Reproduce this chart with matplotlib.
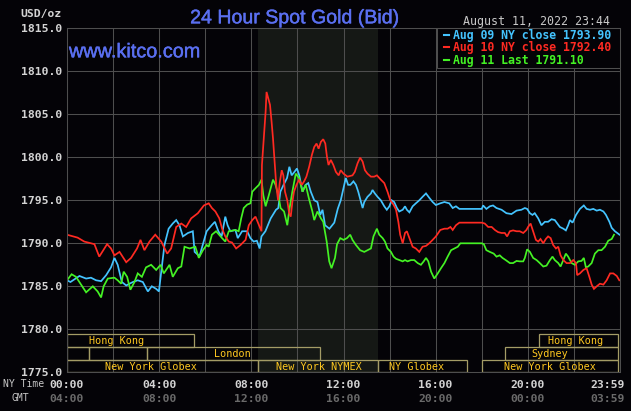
import matplotlib
matplotlib.use("Agg")
import matplotlib.pyplot as plt
import matplotlib.patheffects as pe
from matplotlib.patches import Rectangle
from matplotlib.lines import Line2D
from matplotlib.transforms import blended_transform_factory

# ---------------- data ----------------
hours_aug09 = [0, 0.15, 0.54, 0.83, 1.04, 1.26, 1.48, 1.7, 1.91, 2.06, 2.2, 2.38, 2.57, 2.71, 2.86, 3.07,
               3.29, 3.51, 3.68, 3.87, 3.99, 4.09, 4.23, 4.41, 4.59, 4.74, 4.88, 5.03, 5.25, 5.46, 5.54,
               5.75, 5.9, 6.06, 6.28, 6.42, 6.57, 6.71, 6.87, 6.97, 7.09, 7.31, 7.41, 7.6, 7.82, 7.96,
               8.1, 8.24, 8.36, 8.44, 8.61, 8.84, 9.07, 9.17, 9.26, 9.4, 9.55, 9.65, 9.75, 9.87, 9.98,
               10.08, 10.22, 10.36, 10.47, 10.58, 10.73, 10.87, 10.99, 11.09, 11.2, 11.39, 11.6, 11.75,
               11.88, 12.0, 12.1, 12.2, 12.3, 12.43, 12.54, 12.64, 12.72, 12.83, 12.9, 13.04, 13.19,
               13.26, 13.36, 13.48, 13.62, 13.77, 13.88, 13.99, 14.09, 14.2, 14.32, 14.42, 14.57, 14.67,
               14.75, 14.86, 15.0, 15.14, 15.29, 15.43, 15.58, 15.72, 15.87, 16.01, 16.2, 16.38, 16.59,
               16.74, 16.88, 17.03, 18.0, 18.06, 18.2, 18.35, 18.49, 18.64, 18.86, 19.07, 19.29, 19.51,
               19.72, 19.87, 19.97, 20.09, 20.2, 20.3, 20.45, 20.59, 20.74, 20.88, 21.03, 21.17, 21.28,
               21.39, 21.54, 21.65, 21.75, 21.83, 21.94, 22.09, 22.26, 22.43, 22.55, 22.7, 22.84, 22.99,
               23.13, 23.28, 23.39, 23.54, 23.64, 23.78, 23.88, 23.98]
price_aug09 = [1785.7, 1785.5, 1786.2, 1785.9, 1786.0, 1785.7, 1785.6, 1786.3, 1787.2, 1788.3, 1787.5,
               1785.5, 1785.1, 1785.3, 1785.5, 1785.7, 1785.5, 1784.4, 1785.0, 1784.7, 1784.4, 1786.7,
               1789.8, 1791.7, 1792.3, 1792.7, 1792.1, 1790.8, 1791.2, 1791.4, 1789.0, 1788.5, 1789.9,
               1791.4, 1792.1, 1792.5, 1791.4, 1790.8, 1793.1, 1792.1, 1791.4, 1791.55, 1790.6, 1791.4,
               1791.4, 1790.6, 1790.2, 1790.3, 1789.4, 1790.8, 1791.4, 1792.9, 1793.9, 1794.1, 1796.0,
               1796.8, 1797.6, 1798.9, 1797.9, 1798.3, 1798.7, 1797.9, 1796.0, 1796.8, 1797.0, 1796.0,
               1795.0, 1794.8, 1793.3, 1793.9, 1792.1, 1791.7, 1792.4, 1794.0, 1795.0, 1796.4, 1797.6,
               1796.8, 1796.8, 1797.2, 1796.8, 1796.0, 1795.2, 1794.1, 1794.8, 1795.4, 1795.8, 1796.2,
               1795.8, 1795.4, 1795.0, 1794.3, 1793.9, 1794.3, 1795.0, 1794.8, 1794.1, 1793.7, 1793.9,
               1794.3, 1793.9, 1793.6, 1794.3, 1794.65, 1795.0, 1795.4, 1795.8, 1795.3, 1794.8, 1794.45,
               1794.65, 1794.8, 1794.65, 1794.1, 1794.3, 1794.0, 1794.0, 1794.4, 1794.0, 1794.3, 1794.4,
               1794.1, 1793.9, 1793.5, 1793.4, 1793.8, 1793.9, 1794.1, 1794.0, 1793.5, 1793.3, 1793.5,
               1792.9, 1792.1, 1792.5, 1792.5, 1792.8, 1792.7, 1792.3, 1791.9, 1791.7, 1791.5, 1792.1,
               1792.7, 1792.4, 1793.3, 1794.0, 1794.4, 1794.0, 1793.9, 1794.0, 1793.8, 1793.9, 1793.7,
               1793.3, 1792.5, 1791.8, 1791.4, 1791.2, 1791.0]

hours_aug10 = [0, 0.46, 0.75, 1.19, 1.4, 1.74, 1.91, 2.06, 2.28, 2.57, 2.78, 3.04, 3.19, 3.36, 3.58,
               3.83, 4.09, 4.35, 4.52, 4.74, 4.96, 5.17, 5.39, 5.68, 5.94, 6.15, 6.29, 6.44, 6.61, 6.73,
               6.87, 7.02, 7.16, 7.34, 7.53, 7.75, 7.89, 8.04, 8.18, 8.33, 8.44, 8.46, 8.55, 8.62, 8.66,
               8.73, 8.81, 8.88, 8.94, 9.0, 9.08, 9.16, 9.23, 9.32, 9.39, 9.46, 9.56, 9.64, 9.71, 9.78,
               9.85, 9.96, 10.07, 10.19, 10.29, 10.39, 10.51, 10.63, 10.73, 10.83, 10.92, 11.02, 11.12,
               11.21, 11.28, 11.35, 11.45, 11.56, 11.67, 11.79, 11.88, 12.0, 12.17, 12.39, 12.49, 12.61,
               12.72, 12.83, 12.93, 13.04, 13.19, 13.33, 13.45, 13.62, 13.77, 13.91, 14.03, 14.17, 14.28,
               14.38, 14.46, 14.57, 14.67, 14.75, 14.86, 15.0, 15.14, 15.29, 15.43, 15.58, 15.72, 15.87,
               16.01, 16.2, 16.38, 16.52, 16.64, 16.74, 16.88, 17.03, 18.0, 18.13, 18.28, 18.43, 18.57,
               18.71, 18.86, 19.0, 19.1, 19.22, 19.36, 19.51, 19.65, 19.8, 19.94, 20.01, 20.12, 20.23,
               20.35, 20.45, 20.55, 20.67, 20.78, 20.88, 20.99, 21.1, 21.22, 21.32, 21.42, 21.54, 21.68,
               21.83, 21.97, 22.09, 22.14, 22.26, 22.41, 22.55, 22.67, 22.77, 22.87, 22.99, 23.13, 23.28,
               23.42, 23.57, 23.71, 23.86, 23.97]
price_aug10 = [1791.0, 1790.66, 1790.2, 1789.9, 1788.45, 1789.9, 1789.4, 1788.6, 1789.0, 1787.8, 1788.3,
               1789.4, 1790.4, 1789.2, 1790.2, 1791.0, 1790.2, 1788.8, 1789.4, 1791.9, 1792.3, 1791.9,
               1792.9, 1793.5, 1794.4, 1794.65, 1794.1, 1793.7, 1792.9, 1791.7, 1790.8, 1790.2, 1790.1,
               1789.4, 1789.8, 1790.4, 1792.1, 1792.7, 1793.1, 1792.1, 1791.4, 1799.1, 1802.6, 1805.3,
               1807.6, 1806.9, 1806.1, 1804.1, 1802.2, 1799.9, 1796.8, 1795.0, 1797.0, 1798.5, 1797.9,
               1796.0, 1795.0, 1793.5, 1793.1, 1794.8, 1796.0, 1796.8, 1797.4, 1796.8, 1797.2, 1797.75,
               1798.9, 1800.3, 1801.2, 1801.6, 1801.0, 1801.8, 1802.1, 1801.6, 1800.1, 1799.1, 1799.7,
               1799.1, 1798.3, 1797.9, 1798.5, 1798.1, 1797.75, 1797.9, 1798.3, 1799.3, 1799.96, 1799.5,
               1798.5, 1798.1, 1797.75, 1797.75, 1797.9, 1797.4, 1797.0, 1796.0, 1795.0, 1794.5, 1793.9,
               1792.5, 1791.0, 1790.0, 1791.2, 1791.4, 1790.6, 1789.6, 1789.4, 1789.0, 1789.6, 1789.7,
               1790.0, 1790.4, 1790.8, 1791.55, 1791.7, 1791.7, 1791.9, 1791.55, 1792.1, 1792.4, 1792.4,
               1792.3, 1791.9, 1791.9, 1791.55, 1791.3, 1791.2, 1791.2, 1790.8, 1791.4, 1791.5, 1791.4,
               1791.4, 1791.2, 1791.55, 1791.9, 1792.3, 1791.4, 1790.4, 1790.2, 1790.5, 1790.0, 1790.5,
               1790.8, 1790.6, 1789.8, 1789.4, 1789.6, 1788.6, 1788.05, 1787.7, 1787.7, 1788.05, 1787.7,
               1786.3, 1786.5, 1786.9, 1787.1, 1786.1, 1785.2, 1784.7, 1785.0, 1785.3, 1785.2, 1785.7,
               1786.5, 1786.5, 1786.2, 1785.7]

hours_aug11 = [0, 0.2, 0.39, 0.61, 0.83, 1.12, 1.33, 1.48, 1.59, 1.77, 2.06, 2.2, 2.35, 2.46, 2.61, 2.75,
               2.93, 3.07, 3.25, 3.43, 3.65, 3.87, 4.06, 4.2, 4.45, 4.59, 4.81, 4.96, 5.1, 5.32, 5.57,
               5.72, 5.9, 6.06, 6.15, 6.29, 6.47, 6.6, 6.73, 6.87, 7.02, 7.31, 7.45, 7.56, 7.67, 7.82,
               7.96, 8.04, 8.18, 8.33, 8.44, 8.52, 8.62, 8.76, 8.94, 9.05, 9.17, 9.27, 9.42, 9.56, 9.66,
               9.78, 9.93, 10.07, 10.22, 10.36, 10.5, 10.65, 10.73, 10.87, 11.02, 11.12, 11.27, 11.38,
               11.48, 11.63, 11.72, 11.86, 12.0, 12.15, 12.29, 12.39, 12.54, 12.72, 12.9, 13.04, 13.19,
               13.3, 13.45, 13.55, 13.7, 13.8, 13.91, 14.06, 14.17, 14.28, 14.42, 14.57, 14.67, 14.78,
               14.93, 15.07, 15.22, 15.36, 15.48, 15.58, 15.68, 15.8, 15.94, 16.09, 16.23, 16.38, 16.52,
               16.67, 16.81, 16.96, 17.07, 18.0, 18.09, 18.2, 18.35, 18.52, 18.64, 18.78, 18.9, 19.04,
               19.22, 19.36, 19.51, 19.65, 19.8, 19.87, 19.97, 20.09, 20.23, 20.38, 20.52, 20.67, 20.81,
               20.96, 21.07, 21.17, 21.32, 21.42, 21.54, 21.65, 21.75, 21.9, 22.04, 22.19, 22.33, 22.43,
               22.52, 22.62, 22.77, 22.91, 23.06, 23.2, 23.35, 23.49, 23.64, 23.74]
price_aug11 = [1785.7, 1786.4, 1786.1, 1785.2, 1784.3, 1785.0, 1784.4, 1783.7, 1785.0, 1785.9, 1786.0,
               1785.7, 1785.3, 1786.7, 1786.1, 1784.6, 1785.5, 1786.5, 1786.1, 1787.2, 1787.5, 1786.9,
               1787.5, 1786.5, 1787.5, 1786.1, 1787.1, 1787.3, 1789.6, 1789.4, 1789.6, 1788.3, 1789.2,
               1789.8, 1789.6, 1791.0, 1791.4, 1791.0, 1790.6, 1790.2, 1791.4, 1791.55, 1791.4, 1792.9,
               1794.1, 1794.5, 1794.65, 1796.0, 1796.4, 1796.8, 1797.4, 1795.6, 1794.3, 1795.6, 1797.4,
               1796.8, 1795.6, 1794.1, 1793.7, 1792.1, 1794.1, 1796.0, 1798.1, 1797.6, 1796.0, 1796.8,
               1795.2, 1793.7, 1792.7, 1793.7, 1792.9, 1792.5, 1790.2, 1787.9, 1787.1, 1788.3, 1789.9,
               1790.6, 1790.4, 1790.6, 1791.0, 1790.4, 1789.8, 1789.2, 1789.0, 1789.2, 1789.4, 1790.8,
               1791.7, 1791.0, 1790.6, 1790.2, 1789.4, 1789.0, 1788.45, 1788.2, 1788.05, 1787.9, 1788.05,
               1787.9, 1788.05, 1788.05, 1787.7, 1787.5, 1787.9, 1788.3, 1787.9, 1786.7, 1785.9, 1786.5,
               1787.1, 1787.7, 1788.45, 1789.2, 1789.4, 1789.6, 1790.0, 1790.0, 1789.9, 1789.2, 1789.0,
               1788.8, 1788.45, 1788.6, 1788.3, 1788.05, 1787.7, 1787.7, 1787.95, 1787.9, 1787.9, 1788.3,
               1789.3, 1789.0, 1788.3, 1788.05, 1787.7, 1787.3, 1787.4, 1788.05, 1788.45, 1788.05, 1787.7,
               1787.3, 1788.05, 1788.8, 1788.45, 1787.7, 1787.5, 1787.9, 1787.95, 1788.3, 1787.2, 1787.3,
               1787.7, 1788.8, 1789.2, 1789.2, 1789.6, 1790.3, 1790.5, 1791.0]

series_labels = ["Aug 09 NY close 1793.90", "Aug 10 NY close 1792.40", "Aug 11 Last 1791.10"]

y_ticks = [1775, 1780, 1785, 1790, 1795, 1800, 1805, 1810, 1815]
ny_time_ticks = [0, 4, 8, 12, 16, 20, 23.98]
ny_time_labels = ["00:00", "04:00", "08:00", "12:00", "16:00", "20:00", "23:59"]
gmt_labels = ["04:00", "08:00", "12:00", "16:00", "20:00", "00:00", "03:59"]

# trading sessions: (name, start hour, end hour, row)
session_names = ["Hong Kong", "", "", "London", "New York Globex", "New York NYMEX",
                 "NY Globex", "New York Globex", "Sydney", "Hong Kong"]
session_start = [0, 0, 0.97, 3.48, 0, 8.3, 13.5, 18.02, 19.0, 20.5]
session_end = [5.5, 0.97, 3.48, 11.0, 8.3, 13.5, 17.35, 23.92, 23.92, 23.92]
session_row = [2, 1, 1, 1, 0, 0, 0, 0, 1, 2]
session_label_x = [2.13, 0, 0, 7.16, 3.65, 10.92, 15.19, 20.98, 20.96, 22.05]
nymex_span = (8.3, 13.5)

title = "24 Hour Spot Gold (Bid)"
site = "www.kitco.com"
stamp = "August 11, 2022 23:44"

# ---------------- style ----------------
BG = "#040307"
SHADE = "#151815"
GRID = "#4e4e4e"
BLUE = "#5a6ff0"
TICK = "#d4d4d4"
GMTC = "#6a6a6a"
BOXC = "#a49c66"
SESC = "#ffc820"
colors = ["#44c4ff", "#ff2a22", "#44f224"]

plt.rcParams["font.family"] = ["DejaVu Sans Mono"]

W, H = 631, 411
fig = plt.figure(figsize=(W / 100, H / 100), dpi=100, facecolor=BG)
top_px, bot_px, left_px, right_px = 28.3, 372.3, 67, 620
ax = fig.add_axes([left_px / W, 1 - bot_px / H, (right_px - left_px) / W, (bot_px - top_px) / H])
ax.set_facecolor(BG)
ax.set_xlim(0, 24)
ax.set_ylim(1775, 1815)

def fx(px):
    return px / W

def fy(py):
    return 1 - py / H

ax.axvspan(*nymex_span, color=SHADE, lw=0, zorder=0)
ax.set_axisbelow(True)
ax.set_xticks(range(0, 25, 2))
ax.set_xticklabels([])
ax.set_yticks(y_ticks)
ax.set_yticklabels([f"{v}.0" for v in y_ticks], fontweight="bold")
ax.tick_params(axis="both", length=0, colors=TICK, labelsize=8.2)
ax.tick_params(axis="y", pad=3.6)
ax.grid(True, color=GRID, lw=0.75)
for s in ax.spines.values():
    s.set_color(GRID)
    s.set_linewidth(0.75)

# series
for hrs, vals, c in zip([hours_aug09, hours_aug11, hours_aug10],
                        [price_aug09, price_aug11, price_aug10],
                        [colors[0], colors[2], colors[1]]):
    ax.plot(hrs, vals, color=c, lw=1.25, zorder=2, solid_joinstyle="miter")

# session boxes
row_h = 1.47
row_base = [1775.0, 1776.47, 1777.94]
for name, s0, s1, r, lx in zip(session_names, session_start, session_end, session_row, session_label_x):
    ax.add_patch(Rectangle((s0, row_base[r]), s1 - s0, row_h, facecolor="none",
                           edgecolor=BOXC, lw=0.9, zorder=1.5))
    if name:
        ax.text(lx, row_base[r] + 0.3, name, color=SESC, fontsize=7.3, ha="center",
                va="baseline", zorder=1.6)

# legend box
lx0 = (436.7 - left_px) / (right_px - left_px)
ly0 = (bot_px - 68.3) / (bot_px - top_px)
ax.add_patch(Rectangle((lx0, ly0), 1 - lx0, 1 - ly0, transform=ax.transAxes,
                       facecolor=BG, edgecolor=GRID, lw=0.75, zorder=3, clip_on=False))
for i, (lab, c) in enumerate(zip(series_labels, colors)):
    ybase = [39.0, 51.3, 64.0][i]
    fig.add_artist(Line2D([fx(443.5), fx(448.5)], [fy(ybase - 4), fy(ybase - 4)], color=c, lw=1.5))
    fig.text(fx(452.7), fy(ybase), lab, color=c, fontsize=8.3, fontweight="bold",
             ha="left", va="baseline", zorder=4)

# texts
thick = [pe.withStroke(linewidth=0.3, foreground=BLUE)]
fig.text(fx(295.5), fy(23.3), title, color=BLUE, fontsize=14.1, family="Liberation Sans",
         ha="center", va="baseline", path_effects=thick)
fig.text(fx(69.0), fy(57.3), site, color=BLUE, fontsize=14.3, family="Liberation Sans",
         ha="left", va="baseline", zorder=5, path_effects=thick)
fig.text(fx(462.7), fy(25.0), stamp, color="#c8c8c8", fontsize=8.35, ha="left", va="baseline")
fig.text(fx(62.0), fy(17.3), "USD/oz", color=TICK, fontsize=8.2, fontweight="bold",
         ha="right", va="baseline")

trans = blended_transform_factory(ax.transData, fig.transFigure)
for h, a, b in zip(ny_time_ticks, ny_time_labels, gmt_labels):
    xh = h if h < 23 else 23.48
    ax.text(xh, fy(387.7), a, transform=trans, color=TICK, fontsize=8.2, fontweight="bold",
            ha="center", va="baseline", clip_on=False)
    ax.text(xh, fy(401.7), b, transform=trans, color=GMTC, fontsize=8.2, fontweight="bold",
            ha="center", va="baseline", clip_on=False)
fig.text(fx(3.3), fy(387.0), "NY Time", color="#c8c8c8", fontsize=7.0, ha="left", va="baseline")
fig.text(fx(12.0), fy(401.0), "GMT", color="#c8c8c8", fontsize=7.0, ha="left", va="baseline")

fig.savefig("out.png", dpi=100, facecolor=BG)
